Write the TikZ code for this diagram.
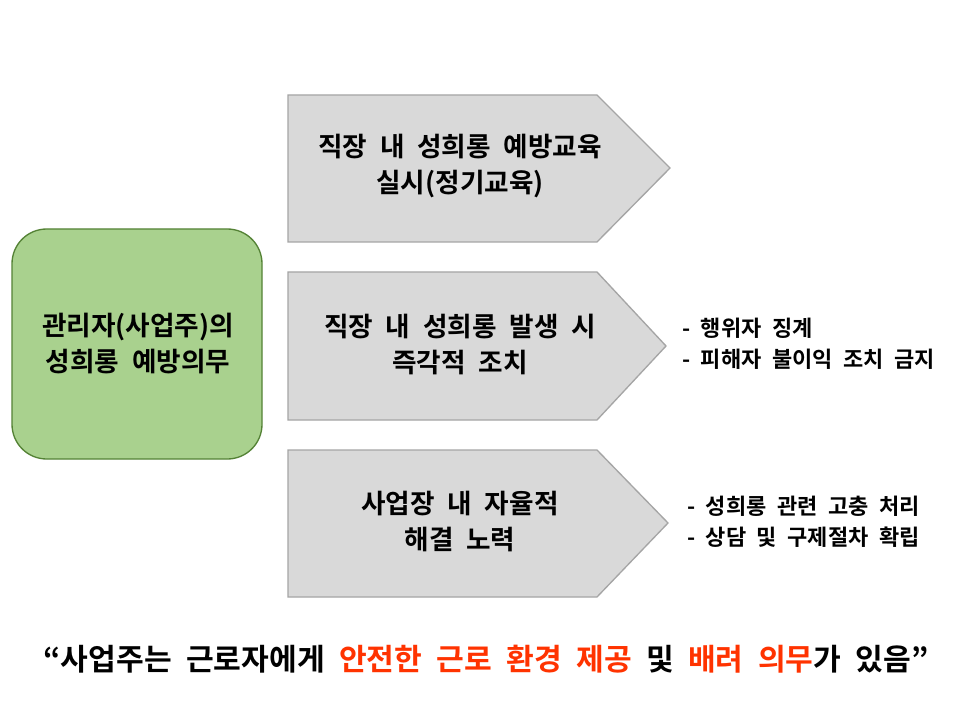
\documentclass[tikz,border=0pt]{standalone}
\usepackage{fontspec}
\newfontfamily\kr[WordSpace=2.1]{Noto Sans CJK KR Bold}
\definecolor{gfill}{HTML}{A9D18E}
\definecolor{gline}{HTML}{548235}
\definecolor{pfill}{HTML}{D9D9D9}
\definecolor{pline}{HTML}{A5A5A5}
\definecolor{hl}{HTML}{FF3300}
\tikzset{
  arrowbox/.style={fill=pfill,draw=pline,line width=1pt},
  greenbox/.style={fill=gfill,draw=gline,line width=1pt,rounded corners=26pt},
  maintext/.style={font=\kr\fontsize{20}{27}\selectfont,align=center,inner sep=0pt},
  sidetext/.style={font=\kr\fontsize{16.5}{23}\selectfont,align=left,anchor=west,inner sep=0pt},
}
\begin{document}
\begin{tikzpicture}[x=0.75pt,y=-0.75pt]
\useasboundingbox (0,0) rectangle (960,720);
\fill[white] (0,0) rectangle (960,720);
% green box
\draw[greenbox] (12,229) rectangle (262,459);
\node[maintext] (g) at (138,344) {관리자(사업주)의\\성희롱 예방의무};
% pentagons
\draw[arrowbox] (288,95) -- (597,95) -- (670,168) -- (597,242) -- (288,242) -- cycle;
\draw[arrowbox] (288,272) -- (597,272) -- (666,346) -- (597,420) -- (288,420) -- cycle;
\draw[arrowbox] (288,450) -- (597,450) -- (668,523) -- (597,597) -- (288,597) -- cycle;
\node[maintext] (a1) at (460,166) {직장 내 성희롱 예방교육\\실시(정기교육)};
\node[maintext] (a2) at (460,344) {직장 내 성희롱 발생 시\\즉각적 조치};
\node[maintext] (a3) at (460,522) {사업장 내 자율적\\해결 노력};
% side notes
\node[sidetext] (s2) at (682,344) {-  행위자 징계\\-  피해자 불이익 조치 금지};
\node[sidetext] (s3) at (687,522) {-  성희롱 관련 고충 처리\\-  상담 및 구제절차 확립};
% bottom
\node[font=\kr\fontsize{22.6}{26}\selectfont,inner sep=0pt] (q) at (486,659)
  {“사업주는 근로자에게 \textcolor{hl}{안전한 근로 환경 제공} 및 \textcolor{hl}{배려 의무}가 있음”};
\end{tikzpicture}
\end{document}
